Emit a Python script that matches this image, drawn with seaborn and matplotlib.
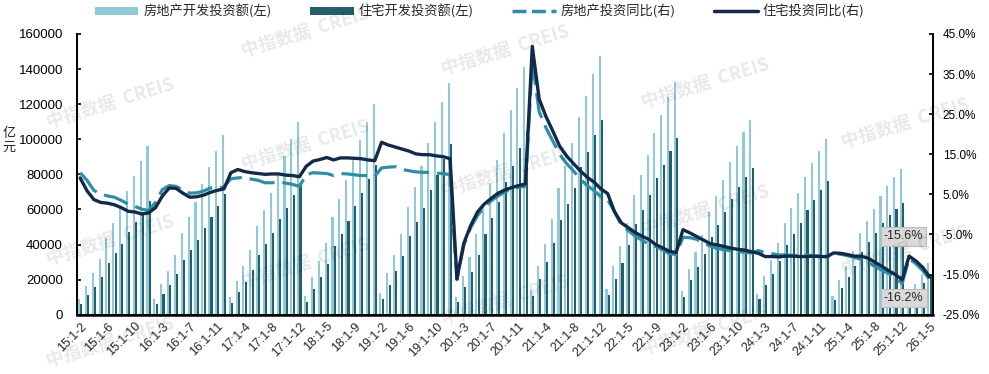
import numpy as np
import pandas as pd
import matplotlib
matplotlib.use("Agg")
import matplotlib.pyplot as plt
from matplotlib.patches import Patch
from matplotlib.lines import Line2D
import seaborn as sns

sns.set_theme(style="white")
plt.rcParams['font.family'] = ['Liberation Sans', 'Noto Sans CJK SC', 'DejaVu Sans']

# ---------------- data ----------------
years = ["15", "16", "17", "18", "19", "20", "21", "22", "23", "24", "25"]
months = ["1-2", "1-3", "1-4", "1-5", "1-6", "1-7", "1-8", "1-9", "1-10", "1-11", "1-12"]
months_26 = ["1-2", "1-3", "1-4", "1-5"]
categories = [f"{y}:{m}" for y in years for m in months] + [f"26:{m}" for m in months_26]

# 房地产开发投资额 (亿元)
re_invest = [
    8786, 16307, 23669, 32016, 43955, 52422, 60547, 70535, 78801, 87702, 95979,
    9025, 17677, 25030, 33902, 46631, 55411, 64255, 74598, 83975, 93387, 102581,
    9854, 19292, 27732, 36970, 50610, 59761, 69494, 80644, 90544, 100387, 109799,
    10845, 21291, 30592, 40632, 55531, 66000, 76519, 88454, 99325, 110083, 120264,
    12090, 23803, 34217, 46075, 61609, 72843, 84589, 98008, 109603, 121265, 132194,
    10115, 21963, 33103, 45920, 62780, 75325, 88454, 103484, 116556, 129492, 141443,
    13986, 27576, 40240, 54318, 72179, 84895, 98060, 112568, 124934, 137220, 147602,
    14499, 27765, 39154, 52134, 68314, 79462, 90809, 103559, 113945, 123863, 132895,
    13669, 25974, 35514, 45701, 58550, 67717, 76900, 87269, 95922, 104045, 110913,
    11842, 22082, 30928, 40632, 52529, 60877, 69284, 78680, 86309, 93368, 100280,
    10720, 19904, 27730, 36234, 46658, 53580, 60309, 67706, 73563, 78591, 82788,
    9500, 17300, 23400, 29600,
]
# 住宅开发投资额 (亿元)
res_invest = [
    5960, 11026, 15856, 21589, 29534, 35112, 40521, 47208, 52704, 58569, 64595,
    6061, 11533, 16902, 22992, 31099, 36622, 42304, 49474, 55603, 62083, 68729,
    6691, 12825, 18711, 25383, 34271, 40284, 46577, 54471, 61052, 68105, 75190,
    7494, 14531, 21274, 28987, 38932, 45964, 53144, 62097, 69538, 77367, 85265,
    8843, 17045, 24848, 33712, 45083, 52905, 61062, 71349, 79691, 88508, 97117,
    7428, 15818, 24152, 33914, 46255, 55021, 64298, 75701, 85030, 94881, 104498,
    10540, 20374, 30045, 40968, 54118, 63054, 72464, 83952, 92938, 102566, 111186,
    11088, 20517, 29414, 39616, 51683, 59649, 67971, 77656, 85224, 93130, 100623,
    10268, 19767, 26990, 34824, 44498, 51397, 58367, 66150, 72613, 78658, 83820,
    8941, 16716, 23413, 30799, 39817, 46145, 52517, 59718, 65509, 70960, 76012,
    8276, 15266, 21241, 27755, 35787, 41149, 46317, 52066, 56644, 60515, 63498,
    7300, 13300, 18200, 22800,
]
# 房地产投资同比 (%)
re_yoy = [
    10.4, 8.5, 6.0, 5.1, 4.6, 4.3, 3.5, 2.6, 2.0, 1.3, 1.0,
    3.0, 6.2, 7.2, 7.0, 6.1, 5.3, 5.4, 5.8, 6.6, 6.5, 6.9,
    8.9, 9.1, 9.3, 8.8, 8.5, 7.9, 7.9, 8.1, 7.8, 7.5, 7.0,
    9.9, 10.4, 10.3, 10.2, 9.7, 10.2, 10.1, 9.9, 9.7, 9.7, 9.5,
    11.6, 11.8, 11.9, 11.2, 10.9, 10.6, 10.5, 10.5, 10.3, 10.2, 9.9,
    -16.3, -7.7, -3.3, -0.3, 1.9, 3.4, 4.6, 5.6, 6.3, 6.8, 7.0,
    38.3, 25.6, 21.6, 18.3, 15.0, 12.7, 10.9, 8.8, 7.2, 6.0, 4.4,
    3.7, 0.7, -2.7, -4.0, -5.4, -6.4, -7.4, -8.0, -8.8, -9.8, -10.0,
    -5.7, -5.8, -6.2, -7.2, -7.9, -8.5, -8.8, -9.1, -9.3, -9.4, -9.6,
    -9.0, -9.5, -9.8, -10.1, -10.1, -10.2, -10.2, -10.1, -10.3, -10.4, -10.6,
    -9.8, -9.9, -10.3, -10.7, -11.2, -12.0, -12.9, -13.9, -14.7, -15.9, -17.2,
    -11.0, -12.3, -14.0, -16.2,
]
# 住宅投资同比 (%)
res_yoy = [
    9.1, 5.9, 3.7, 3.0, 2.8, 2.4, 1.7, 0.8, 0.6, 0.1, 0.4,
    1.7, 4.6, 6.6, 6.5, 5.3, 4.3, 4.4, 4.8, 5.5, 6.0, 6.4,
    10.4, 11.2, 10.7, 10.4, 10.2, 10.0, 10.1, 10.1, 9.8, 9.7, 9.4,
    12.0, 13.3, 13.7, 14.2, 13.6, 14.1, 14.1, 14.0, 13.9, 13.6, 13.4,
    18.0, 17.3, 16.8, 16.3, 15.8, 15.1, 14.9, 14.9, 14.6, 14.4, 13.9,
    -16.0, -7.2, -2.8, 0.6, 2.6, 4.0, 5.3, 6.1, 6.7, 7.2, 7.6,
    41.9, 28.8, 24.4, 20.8, 17.0, 14.6, 12.7, 10.9, 9.3, 8.1, 6.4,
    5.2, 0.7, -2.1, -3.3, -4.5, -5.4, -6.2, -7.5, -8.3, -9.2, -9.5,
    -3.8, -4.6, -5.5, -6.4, -7.3, -7.6, -8.0, -8.4, -8.7, -8.9, -9.3,
    -9.7, -10.5, -10.5, -10.6, -10.4, -10.4, -10.5, -10.5, -10.4, -10.5, -10.5,
    -9.6, -9.7, -10.0, -10.4, -10.4, -10.9, -11.9, -12.9, -14.0, -15.0, -16.3,
    -10.4, -11.6, -13.2, -15.6,
]
last_labels = ["-15.6%", "-16.2%"]

series_bar = ["房地产开发投资额(左)", "住宅开发投资额(左)"]
series_line = ["房地产投资同比(右)", "住宅投资同比(右)"]

C_LIGHT = "#8fc9da"
C_DARK = "#245e6c"
C_DASH = "#2f8ea4"
C_SOLID = "#13294a"

# ---------------- frames ----------------
n = len(categories)
bars = pd.DataFrame({
    "cat": categories * 2,
    "val": re_invest + res_invest,
    "series": [series_bar[0]] * n + [series_bar[1]] * n,
})
lines = pd.DataFrame({"pos": np.arange(n), "re": re_yoy, "res": res_yoy})

# ---------------- figure ----------------
fig = plt.figure(figsize=(9.89, 3.74), dpi=100)
ax = fig.add_axes([0.0776, 0.1586, 0.8658, 0.7505])

sns.barplot(data=bars, x="cat", y="val", hue="series", order=categories,
            hue_order=series_bar, palette=[C_LIGHT, C_DARK],
            width=0.68, gap=0.1, saturation=1, legend=False, ax=ax,
            linewidth=0, edgecolor="none")
ax.set_xlim(-0.5, n - 0.5)
ax.set_ylim(0, 160000)
ax.set_yticks(np.arange(0, 160001, 20000))
ax.set_yticklabels([str(v) for v in range(0, 160001, 20000)], fontsize=9.5)
ax.set_xlabel("")
ax.set_ylabel("")
tick_pos = np.arange(0, n, 4)
ax.set_xticks(tick_pos)
ax.set_xticklabels([categories[i] for i in tick_pos], rotation=45, ha="right",
                   va="top", rotation_mode="anchor", fontsize=9)
ax.tick_params(axis="x", length=0, pad=4)
ax.tick_params(axis="y", direction="in", length=3, width=1.2, pad=10, colors="black")

ax2 = ax.twinx()
sns.lineplot(data=lines, x="pos", y="re", ax=ax2, color=C_DASH, lw=2.3, zorder=3)
ax2.lines[-1].set_dashes((8, 2.5))
sns.lineplot(data=lines, x="pos", y="res", ax=ax2, color=C_SOLID, lw=2.4, zorder=4)
ax2.set_xlim(-0.5, n - 0.5)
ax2.set_ylim(-25, 45)
ax2.set_yticks(np.arange(-25, 46, 10))
ax2.set_yticklabels([f"{v:.1f}%" for v in np.arange(-25, 46, 10)], fontsize=8.5)
ax2.set_ylabel("")
ax2.tick_params(axis="y", direction="in", length=3, width=1.2, pad=7, colors="black")

for a in (ax, ax2):
    a.spines["top"].set_visible(False)
    for s in ("left", "right", "bottom"):
        a.spines[s].set_color("black")
        a.spines[s].set_linewidth(1.3)
    a.grid(False)
ax.spines["bottom"].set_linewidth(1.8)

# value labels of the last points
box = dict(boxstyle="square,pad=0.25", facecolor="#d9d9d9", edgecolor="#bdbdbd", lw=0.8)
ax2.text(120.2, -5.5, last_labels[0], ha="center", va="center", fontsize=9, bbox=box, zorder=6)
ax2.text(120.2, -20.9, last_labels[1], ha="center", va="center", fontsize=9, bbox=box, zorder=6)

fig.text(0.009, 0.625, "亿\n元", fontsize=9.5, ha="center", va="center",
         family=["Noto Sans CJK SC"], linespacing=1.1)

handles = [Patch(facecolor=C_LIGHT, edgecolor="none"), Patch(facecolor=C_DARK, edgecolor="none"),
           Line2D([], [], color=C_DASH, lw=2.5, dashes=(4, 1.6)),
           Line2D([], [], color=C_SOLID, lw=2.5)]
fig.legend(handles, series_bar + series_line, loc="upper center",
           bbox_to_anchor=(0.485, 1.02), ncol=4, frameon=False,
           handlelength=3.3, handleheight=0.5, handletextpad=0.4, columnspacing=2.9,
           prop={"family": ["Noto Sans CJK SC"], "size": 9.5})

# watermark
wm = [(110, 103), (305, 145), (505, 50), (705, 83), (905, 123), (110, 240),
      (305, 263), (505, 172), (705, 210), (905, 250), (505, 300), (305, 32),
      (110, 342), (705, 330)]
for (x, y) in wm:
    fig.text(x / 989, 1 - y / 374, "中指数据  CREIS", fontsize=13, weight="bold",
             color="#000000", alpha=0.09, rotation=17, ha="center", va="center",
             family=["Noto Sans CJK SC"], zorder=10)

fig.savefig("out.png", dpi=100)
